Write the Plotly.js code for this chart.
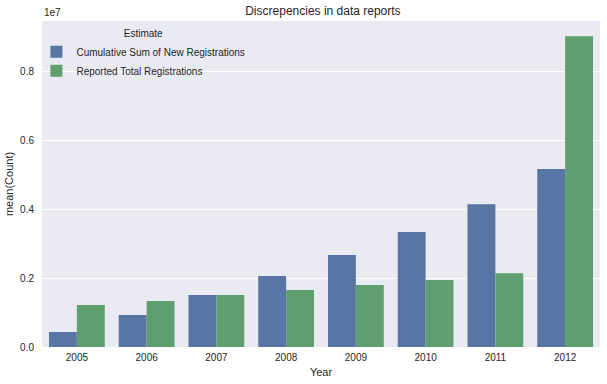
<!DOCTYPE html>
<html>
<head>
<meta charset="utf-8">
<script src="https://cdn.plot.ly/plotly-3.0.1.min.js"></script>
<style>html,body{margin:0;padding:0;background:#fff;}#chart{width:607px;height:384px;}</style>
</head>
<body>
<div id="chart"></div>
<script>
const years = ["2005","2006","2007","2008","2009","2010","2011","2012"];
const cumulativeSum = [435000, 930000, 1510000, 2060000, 2670000, 3330000, 4140000, 5160000];
const reportedTotal = [1220000, 1330000, 1510000, 1650000, 1800000, 1940000, 2140000, 9010000];
const seriesNames = ["Cumulative Sum of New Registrations", "Reported Total Registrations"];
const yTickVals = [0, 2000000, 4000000, 6000000, 8000000];
const yTickText = ["0.0", "0.2", "0.4", "0.6", "0.8"];

const font = "Liberation Sans, Arial, sans-serif";
const traces = [
  {type: "bar", x: years, y: cumulativeSum, name: seriesNames[0], marker: {color: "#5975a4"}},
  {type: "bar", x: years, y: reportedTotal, name: seriesNames[1], marker: {color: "#5f9e6e"}}
];
const layout = {
  width: 607, height: 384,
  margin: {l: 42, r: 7, t: 21, b: 37, pad: 0},
  paper_bgcolor: "#ffffff", plot_bgcolor: "#EAEAF2",
  font: {family: font, size: 10, color: "#262626"},
  barmode: "group", bargap: 0.2, bargroupgap: 0,
  title: {text: "Discrepencies in data reports", font: {size: 12, color: "#262626"}, x: 0.532, xanchor: "center", y: 0.972, yanchor: "middle"},
  xaxis: {type: "category", title: {text: "Year", font: {size: 11}, standoff: 6}, showgrid: false, zeroline: false, ticks: "", tickfont: {size: 10}, ticklabelstandoff: 3},
  yaxis: {title: {text: "mean(Count)", font: {size: 11}, standoff: 4}, range: [0, 9450000], tickvals: yTickVals, ticktext: yTickText, gridcolor: "#ffffff", gridwidth: 1, zeroline: false, ticks: "outside", ticklen: 5, tickcolor: "rgba(0,0,0,0)", tickfont: {size: 10}},
  legend: {x: -0.01, y: 0.99, xanchor: "left", yanchor: "top", bgcolor: "rgba(0,0,0,0)", font: {size: 10}, title: {text: "Estimate", side: "top center", font: {size: 10}}, tracegroupgap: 0},
  annotations: [{text: "1e7", xref: "paper", yref: "paper", x: 0, y: 1, xanchor: "left", yanchor: "bottom", yshift: 1, showarrow: false, font: {size: 10, color: "#262626"}}]
};
Plotly.newPlot("chart", traces, layout, {displayModeBar: false, staticPlot: true});
</script>
</body>
</html>
